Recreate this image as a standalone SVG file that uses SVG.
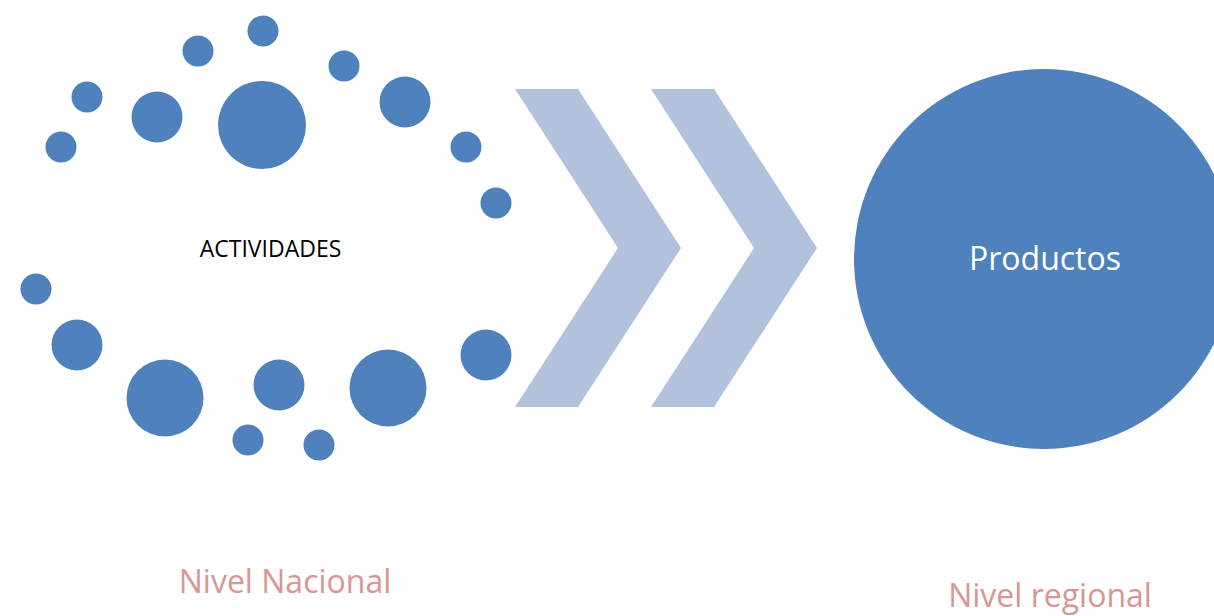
<svg xmlns="http://www.w3.org/2000/svg" width="1214" height="616" viewBox="0 0 1214 616">
<style>
.dot{fill:#4F81BD}
.chev{fill:#B3C2DC}
.lbl{font-family:"Open Sans","Liberation Sans",sans-serif}
.pink{fill:#D99694;font-size:32px}
</style>
<rect width="1214" height="616" fill="#FFFFFF"/>
<g id="actividades">
<circle class="dot" cx="61" cy="147" r="15.5"/>
<circle class="dot" cx="87" cy="97" r="15.5"/>
<circle class="dot" cx="157" cy="117" r="25.5"/>
<circle class="dot" cx="198" cy="51" r="15.5"/>
<circle class="dot" cx="263" cy="31" r="15.5"/>
<circle class="dot" cx="262" cy="125" r="44"/>
<circle class="dot" cx="344" cy="66" r="15.5"/>
<circle class="dot" cx="405" cy="102" r="25.5"/>
<circle class="dot" cx="466" cy="147" r="15.5"/>
<circle class="dot" cx="496" cy="203" r="15.5"/>
<circle class="dot" cx="36" cy="289" r="15.5"/>
<circle class="dot" cx="77" cy="345" r="25.5"/>
<circle class="dot" cx="165" cy="398" r="38.5"/>
<circle class="dot" cx="279" cy="385" r="25.5"/>
<circle class="dot" cx="248" cy="440" r="15.5"/>
<circle class="dot" cx="319" cy="445" r="15.5"/>
<circle class="dot" cx="388" cy="388" r="38.5"/>
<circle class="dot" cx="486" cy="355" r="25.5"/>
<text class="lbl" x="270.5" y="257" font-size="23" text-anchor="middle" fill="#000000">ACTIVIDADES</text>
</g>
<g id="connectors">
<polygon class="chev" points="515,89 578,89 681,248 578,407 515,407 618,248"/>
<polygon class="chev" points="651,89 714,89 817,248 714,407 651,407 754,248"/>
</g>
<g id="productos">
<circle class="dot" cx="1044" cy="259" r="190"/>
<text class="lbl" x="1045" y="270" font-size="32" text-anchor="middle" fill="#FFFFFF">Productos</text>
</g>
<g id="nivel-nacional">
<text class="lbl pink" x="285" y="593" text-anchor="middle">Nivel Nacional</text>
</g>
<g id="nivel-regional">
<text class="lbl pink" x="1050" y="607" text-anchor="middle">Nivel regional</text>
</g>
</svg>
